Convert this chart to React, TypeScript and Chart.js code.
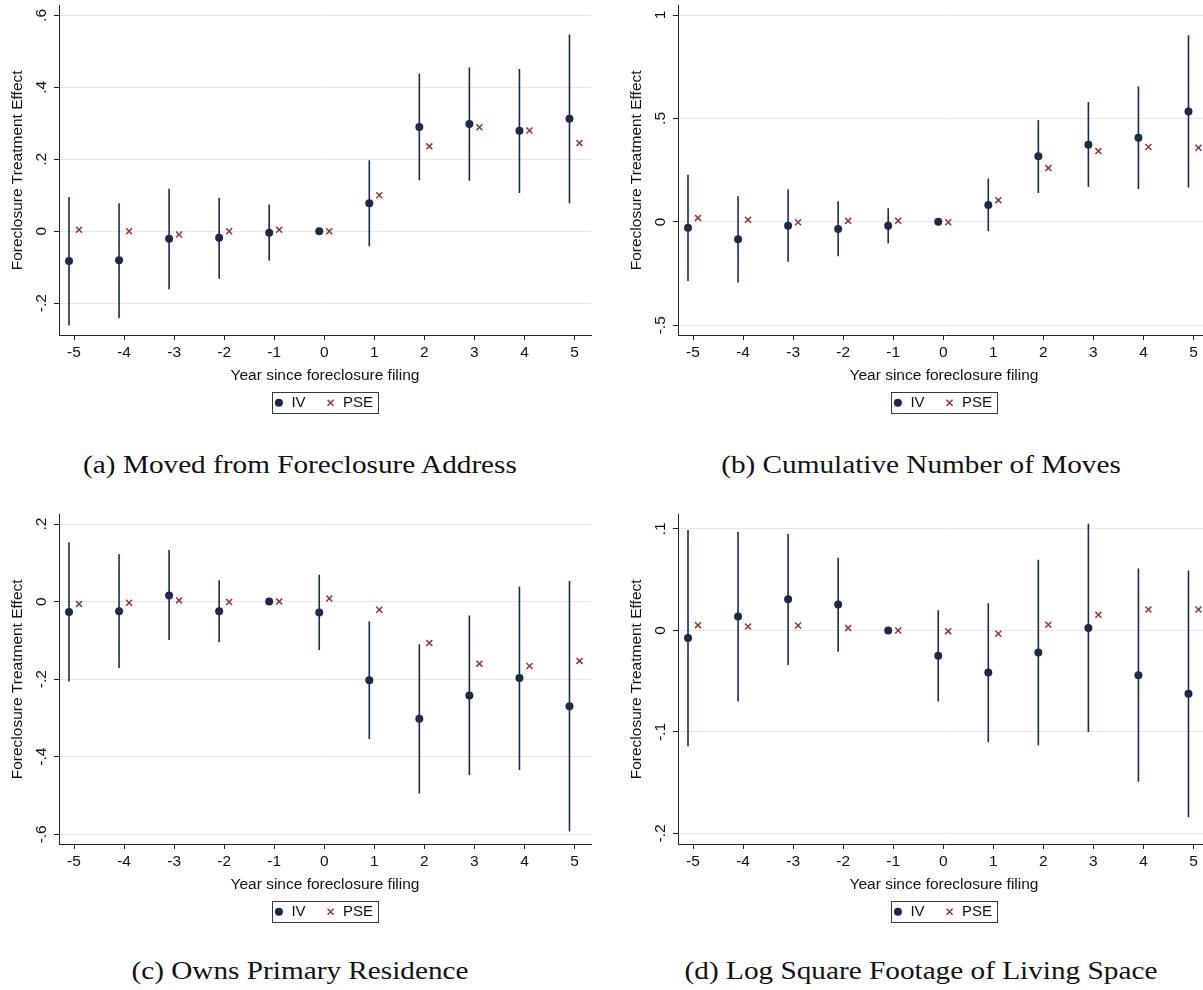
import React, { useEffect, useRef } from 'react';
import { Chart, registerables } from 'chart.js';

Chart.register(...registerables);

// Event-time axis: years relative to the foreclosure filing
const years = [-5, -4, -3, -2, -1, 0, 1, 2, 3, 4, 5];

// (a) Moved from Foreclosure Address
const movedIV = [-0.083, -0.081, -0.021, -0.018, -0.004, 0, 0.078, 0.29, 0.298, 0.279, 0.313];
const movedLow = [-0.262, -0.242, -0.161, -0.132, -0.082, null, -0.042, 0.142, 0.14, 0.106, 0.078];
const movedHigh = [0.095, 0.078, 0.118, 0.093, 0.074, null, 0.197, 0.438, 0.455, 0.451, 0.547];
const movedPSE = [0.004, 0, -0.009, 0, 0.004, 0, 0.1, 0.236, 0.289, 0.28, 0.245];
const movedTicks = [-0.2, 0, 0.2, 0.4, 0.6];

// (b) Cumulative Number of Moves
const movesIV = [-0.029, -0.084, -0.019, -0.034, -0.019, 0, 0.082, 0.317, 0.373, 0.407, 0.534];
const movesLow = [-0.286, -0.293, -0.193, -0.166, -0.103, null, -0.045, 0.14, 0.169, 0.159, 0.166];
const movesHigh = [0.228, 0.124, 0.156, 0.1, 0.066, null, 0.209, 0.492, 0.579, 0.654, 0.902];
const movesPSE = [0.019, 0.01, -0.002, 0.005, 0.005, -0.002, 0.105, 0.26, 0.342, 0.362, 0.358];
const movesTicks = [-0.5, 0, 0.5, 1];

// (c) Owns Primary Residence
const ownsIV = [-0.027, -0.025, 0.016, -0.025, 0, -0.028, -0.203, -0.302, -0.242, -0.197, -0.27];
const ownsLow = [-0.206, -0.171, -0.099, -0.105, null, -0.125, -0.354, -0.495, -0.447, -0.434, -0.593];
const ownsHigh = [0.153, 0.122, 0.133, 0.055, null, 0.069, -0.051, -0.11, -0.036, 0.039, 0.053];
const ownsPSE = [-0.006, -0.003, 0.003, -0.001, 0, 0.008, -0.021, -0.107, -0.16, -0.166, -0.153];
const ownsTicks = [-0.6, -0.4, -0.2, 0, 0.2];

// (d) Log Square Footage of Living Space
const sqftIV = [-0.0075, 0.0137, 0.0307, 0.0255, 0, -0.0248, -0.0415, -0.0216, 0.0023, -0.044, -0.0624];
const sqftLow = [-0.114, -0.07, -0.034, -0.021, null, -0.07, -0.11, -0.113, -0.1, -0.149, -0.184];
const sqftHigh = [0.099, 0.097, 0.095, 0.0716, null, 0.02, 0.0268, 0.0696, 0.105, 0.061, 0.059];
const sqftPSE = [0.0052, 0.0039, 0.0049, 0.0023, 0, -0.0007, -0.0033, 0.0056, 0.0154, 0.0206, 0.0206];
const sqftTicks = [-0.2, -0.1, 0, 0.1];

const NAVY = '#1e2a4c';
const MAROON = '#90353b';
const GRID = '#e6e6e6';
const AXIS = '#222222';
const TEXT = '#111111';
const SANS = "'Liberation Sans', Arial, Helvetica, sans-serif";
const SERIF = "'Liberation Serif', 'Times New Roman', serif";
const LABEL_SIZE = 15.5;

type Panel = {
  id: string;
  left: number;
  top: number;
  iv: number[];
  low: (number | null)[];
  high: (number | null)[];
  pse: number[];
  yTicks: number[];
  yMin: number;
  yMax: number;
  caption: string;
  captionLeft: number;
  captionTop: number;
};

const panels: Panel[] = [
  { id: 'a', left: 0, top: 0, iv: movedIV, low: movedLow, high: movedHigh, pse: movedPSE, yTicks: movedTicks, yMin: -0.2885, yMax: 0.627, caption: '(a) Moved from Foreclosure Address', captionLeft: 0, captionTop: 450 },
  { id: 'b', left: 619, top: 0, iv: movesIV, low: movesLow, high: movesHigh, pse: movesPSE, yTicks: movesTicks, yMin: -0.547, yMax: 1.045, caption: '(b) Cumulative Number of Moves', captionLeft: 621, captionTop: 450 },
  { id: 'c', left: 0, top: 509, iv: ownsIV, low: ownsLow, high: ownsHigh, pse: ownsPSE, yTicks: ownsTicks, yMin: -0.625, yMax: 0.224, caption: '(c) Owns Primary Residence', captionLeft: 0, captionTop: 956 },
  { id: 'd', left: 619, top: 509, iv: sqftIV, low: sqftLow, high: sqftHigh, pse: sqftPSE, yTicks: sqftTicks, yMin: -0.2103, yMax: 0.114, caption: '(d) Log Square Footage of Living Space', captionLeft: 621, captionTop: 956 },
];

// Stata-style labels: ".6", "-.2", "0", "1"
function fmtTick(v: number): string {
  const s = String(Math.round(v * 1000) / 1000);
  return s.replace(/^(-?)0\./, '$1.');
}

// Legend row drawn inside a thin frame, centred under the plot region
const boxedLegend = {
  id: 'boxedLegend',
  afterDraw(chart: any) {
    const { ctx, chartArea } = chart;
    const entries = chart.data.datasets.filter((d: any) => d.inKey !== false);
    const fontSize = 15;
    const cy = 402.8;
    ctx.save();
    ctx.font = `${fontSize}px ${SANS}`;
    ctx.textBaseline = 'middle';
    ctx.textAlign = 'left';
    const widths = entries.map((d: any) => ctx.measureText(d.label).width);
    const lead = 7;
    const markToText = 12.5;
    const itemGap = 25;
    const tail = 5;
    let total = lead + tail;
    widths.forEach((w: number, i: number) => {
      total += markToText + w + (i > 0 ? itemGap : 0);
    });
    const frameLeft = (chartArea.left + chartArea.right) / 2 - total / 2;
    ctx.strokeStyle = '#3a3a3a';
    ctx.lineWidth = 1;
    ctx.strokeRect(Math.round(frameLeft) + 0.5, Math.round(cy - 10.5) + 0.5, Math.round(total), 21);
    let mx = frameLeft + lead;
    entries.forEach((d: any, i: number) => {
      if (i > 0) mx += itemGap;
      if (d.pointStyle === 'circle') {
        ctx.fillStyle = d.backgroundColor;
        ctx.beginPath();
        ctx.arc(mx, cy, 4, 0, Math.PI * 2);
        ctx.fill();
      } else {
        const o = 3;
        ctx.strokeStyle = d.borderColor;
        ctx.lineWidth = 1.5;
        ctx.beginPath();
        ctx.moveTo(mx - o, cy - o);
        ctx.lineTo(mx + o, cy + o);
        ctx.moveTo(mx + o, cy - o);
        ctx.lineTo(mx - o, cy + o);
        ctx.stroke();
      }
      ctx.fillStyle = TEXT;
      ctx.fillText(d.label, mx + markToText, cy);
      mx += markToText + widths[i];
    });
    ctx.restore();
  },
};

function buildConfig(p: Panel): any {
  const ivPoints = years.map((t, i) => ({ x: t - 0.1, y: p.iv[i] }));
  const psePoints = years.map((t, i) => ({ x: t + 0.1, y: p.pse[i] }));
  const ciPoints: { x: number; y: number | null }[] = [];
  years.forEach((t, i) => {
    if (p.low[i] === null || p.high[i] === null) return;
    ciPoints.push({ x: t - 0.1, y: p.low[i] }, { x: t - 0.1, y: p.high[i] }, { x: t - 0.1, y: null });
  });

  return {
    type: 'scatter',
    data: {
      datasets: [
        {
          label: 'IV',
          data: ivPoints,
          pointStyle: 'circle',
          pointRadius: 4,
          backgroundColor: NAVY,
          borderColor: NAVY,
          borderWidth: 0,
          order: 0,
        },
        {
          label: 'PSE',
          data: psePoints,
          pointStyle: 'crossRot',
          pointRadius: 4.2,
          backgroundColor: MAROON,
          borderColor: MAROON,
          borderWidth: 1.5,
          order: 1,
        },
        {
          label: '95% CI',
          data: ciPoints,
          showLine: true,
          spanGaps: false,
          pointRadius: 0,
          borderColor: NAVY,
          borderWidth: 1.6,
          inKey: false,
          order: 2,
        },
      ],
    },
    options: {
      animation: false,
      responsive: false,
      events: [],
      layout: { padding: { top: 5, right: 9, left: 0, bottom: 0 } },
      plugins: {
        legend: { display: false },
        tooltip: { enabled: false },
      },
      scales: {
        x: {
          type: 'linear',
          min: -5.3,
          max: 5.33,
          afterBuildTicks: (s: any) => {
            s.ticks = years.map((v) => ({ value: v }));
          },
          afterFit: (s: any) => {
            s.height = 85;
            s.paddingLeft = 0;
            s.paddingRight = 0;
          },
          grid: { drawOnChartArea: false, drawTicks: true, tickLength: 5, tickColor: AXIS, tickWidth: 1 },
          border: { display: true, color: AXIS, width: 1 },
          ticks: {
            autoSkip: false,
            minRotation: 0,
            maxRotation: 0,
            padding: 3,
            color: TEXT,
            font: { family: SANS, size: LABEL_SIZE },
            callback: (v: number) => String(v),
          },
          title: {
            display: true,
            text: 'Year since foreclosure filing',
            color: TEXT,
            font: { family: SANS, size: LABEL_SIZE },
            padding: { top: 0, bottom: 35 },
          },
        },
        y: {
          type: 'linear',
          min: p.yMin,
          max: p.yMax,
          afterBuildTicks: (s: any) => {
            s.ticks = p.yTicks.map((v) => ({ value: v }));
          },
          afterFit: (s: any) => {
            s.width = 59;
            s.paddingTop = 0;
            s.paddingBottom = 0;
          },
          grid: { color: GRID, lineWidth: 1, drawTicks: true, tickLength: 5, tickColor: AXIS, tickWidth: 1 },
          border: { display: true, color: AXIS, width: 1 },
          ticks: {
            minRotation: 90,
            maxRotation: 90,
            crossAlign: 'center',
            padding: 3.5,
            color: TEXT,
            font: { family: SANS, size: LABEL_SIZE },
            callback: (v: number) => fmtTick(v),
          },
          title: {
            display: true,
            text: 'Foreclosure Treatment Effect',
            color: TEXT,
            font: { family: SANS, size: LABEL_SIZE },
            padding: { top: 8, bottom: 0 },
          },
        },
      },
    },
    plugins: [boxedLegend],
  };
}

function PanelChart({ panel }: { panel: Panel }) {
  const ref = useRef<HTMLCanvasElement | null>(null);
  useEffect(() => {
    if (!ref.current) return;
    const chart = new Chart(ref.current, buildConfig(panel));
    return () => chart.destroy();
  }, [panel]);
  return (
    <canvas
      ref={ref}
      width={600}
      height={420}
      style={{ position: 'absolute', left: panel.left, top: panel.top, width: 600, height: 420 }}
    />
  );
}

export default function App() {
  return (
    <div
      style={{
        position: 'absolute',
        left: 0,
        top: 0,
        width: 1203,
        height: 990,
        overflow: 'hidden',
        background: '#ffffff',
      }}
    >
      {panels.map((p) => (
        <PanelChart key={p.id} panel={p} />
      ))}
      {panels.map((p) => (
        <div
          key={'cap-' + p.id}
          style={{
            position: 'absolute',
            left: p.captionLeft,
            top: p.captionTop,
            width: 600,
            textAlign: 'center',
            fontFamily: SERIF,
            fontSize: 26,
            lineHeight: '30px',
            color: '#111',
            whiteSpace: 'nowrap',
            transform: 'scaleX(1.125)',
            transformOrigin: '50% 50%',
          }}
        >
          {p.caption}
        </div>
      ))}
    </div>
  );
}
